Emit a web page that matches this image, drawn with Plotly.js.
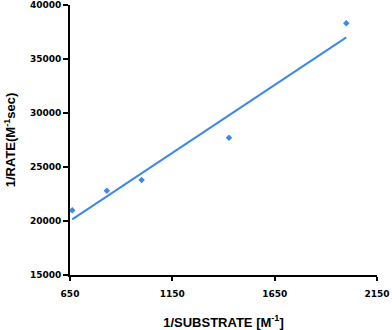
<!DOCTYPE html>
<html>
<head>
<meta charset="utf-8">
<script src="https://cdn.plot.ly/plotly-3.0.1.min.js"></script>
<style>
  html, body { margin: 0; padding: 0; background: #fff; }
  #plotArea { width: 392px; height: 330px; }
</style>
</head>
<body>
<div id="plotArea"></div>
<script>
// measured points
var substrateInv = [661, 830, 1000, 1427, 2000];
var rateInv = [21000, 22800, 23800, 27700, 38300];

// trend line ends
var trendX = [661, 2000];
var trendY = [20150, 37000];

var xTicks = [650, 1150, 1650, 2150];
var yTicks = [15000, 20000, 25000, 30000, 35000, 40000];

var blue = "rgb(62,137,230)";

var points = {
  x: substrateInv,
  y: rateInv,
  mode: "markers",
  type: "scatter",
  marker: { symbol: "diamond", size: 5, color: blue },
  showlegend: false,
};

var trend = {
  x: trendX,
  y: trendY,
  mode: "lines",
  type: "scatter",
  line: { color: blue, width: 2 },
  showlegend: false,
};

var tickFont = { family: "DejaVu Sans", size: 9, color: "#000", weight: "bold" };
var titleFont = { family: "Liberation Sans", size: 13, color: "#000", weight: "bold" };

var layout = {
  width: 392,
  height: 330,
  margin: { l: 70, r: 15, t: 5, b: 55 },
  paper_bgcolor: "#fff",
  plot_bgcolor: "#fff",
  xaxis: {
    range: [650, 2150],
    tickvals: xTicks,
    ticktext: xTicks.map(String),
    showgrid: false,
    zeroline: false,
    showline: true,
    linecolor: "#000",
    linewidth: 2,
    ticks: "outside",
    ticklen: 4,
    tickwidth: 2,
    tickcolor: "#000",
    tickfont: tickFont,
    ticklabelstandoff: 5,
    title: { text: "1/SUBSTRATE [M<sup>-1</sup>]", font: titleFont, standoff: 20 },
  },
  yaxis: {
    range: [15000, 40000],
    tickvals: yTicks,
    ticktext: yTicks.map(String),
    showgrid: false,
    zeroline: false,
    showline: true,
    linecolor: "#000",
    linewidth: 2,
    ticks: "outside",
    ticklen: 5,
    tickwidth: 2,
    tickcolor: "#000",
    tickfont: tickFont,
    title: { text: "1/RATE(M<sup>-1</sup>sec)", font: titleFont, standoff: 11 },
  },
};

Plotly.newPlot("plotArea", [trend, points], layout, { staticPlot: true });
</script>
</body>
</html>
